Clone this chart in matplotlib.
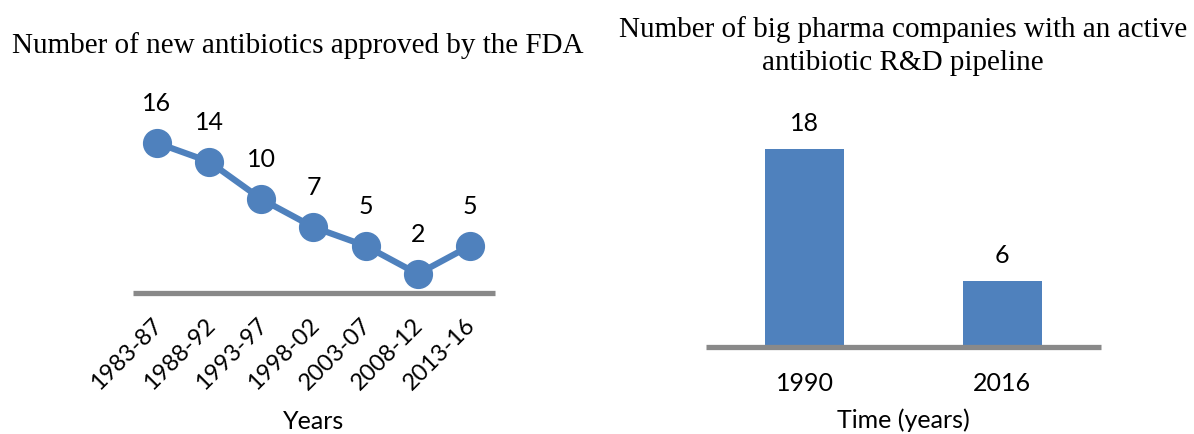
import matplotlib
matplotlib.use("Agg")
import matplotlib.pyplot as plt
from matplotlib.transforms import ScaledTranslation

# ---- data ----
periods = ["1983-87", "1988-92", "1993-97", "1998-02", "2003-07", "2008-12", "2013-16"]
approved = [16, 14, 10, 7, 5, 2, 5]
bar_years = ["1990", "2016"]
companies = [18, 6]

left_title = "Number of new antibiotics approved by the FDA"
right_title_1 = "Number of big pharma companies with an active"
right_title_2 = "antibiotic R&D pipeline"
left_xlabel = "Years"
right_xlabel = "Time (years)"

BLUE = "#4F81BD"
GRAY = "#898989"
W, H = 1194, 435
SERIF = "Liberation Serif"
SANS = "Lato"
FS = 18

fig = plt.figure(figsize=(W / 100, H / 100), dpi=100)


def fx(x):
    return x / W


def fy(y):
    return 1 - y / H


def style_axes(ax):
    for s in ("top", "left", "right"):
        ax.spines[s].set_visible(False)
    ax.spines["bottom"].set_color(GRAY)
    ax.spines["bottom"].set_linewidth(3.8)
    ax.spines["bottom"].set_capstyle("butt")
    ax.set_yticks([])
    ax.tick_params(axis="x", length=0)
    ax.patch.set_alpha(0)


# ---- left: line chart ----
lb, lt = 293.7, 80
ax1 = fig.add_axes([fx(133), fy(lb), fx(495 - 133), (lb - lt) / H])
style_axes(ax1)
xs = list(range(len(periods)))
ax1.plot(xs, approved, color=BLUE, lw=4.5, marker="o", ms=20,
         markeredgecolor=BLUE, clip_on=False, zorder=3)
ax1.set_xlim(-0.46, 6.48)
ax1.set_ylim(0, (lb - lt) / 9.36)
for x, v in zip(xs, approved):
    ax1.annotate(str(v), (x, v), xytext=(0, 29), textcoords="offset points",
                 ha="center", va="center", fontsize=FS, family=SANS)
ax1.set_xticks(xs)
ax1.set_xticklabels(periods, rotation=45, ha="right", va="top",
                    fontsize=17, family=SANS)
ax1.tick_params(axis="x", pad=15)
shift = ScaledTranslation(7 / 72, 0, fig.dpi_scale_trans)
for lbl in ax1.get_xticklabels():
    lbl.set_transform(lbl.get_transform() + shift)

# ---- right: bar chart ----
rb, rt = 348, 100
ax2 = fig.add_axes([fx(706), fy(rb), fx(1101 - 706), (rb - rt) / H])
style_axes(ax2)
bx = list(range(len(bar_years)))
ax2.bar(bx, companies, width=0.4, color=BLUE, zorder=2)
ax2.set_xlim(-0.5, 1.5)
ax2.set_ylim(0, (rb - rt) / 11.0)
for x, v in zip(bx, companies):
    ax2.annotate(str(v), (x, v), xytext=(0, 19), textcoords="offset points",
                 ha="center", va="center", fontsize=FS, family=SANS)
ax2.set_xticks(bx)
ax2.set_xticklabels(bar_years, fontsize=FS, family=SANS)
ax2.tick_params(axis="x", pad=17)

# ---- titles and axis labels ----
fig.text(fx(297.5), fy(53), left_title, ha="center", va="baseline",
         fontsize=21, family=SERIF)
fig.text(fx(903), fy(37), right_title_1, ha="center", va="baseline",
         fontsize=21, family=SERIF)
fig.text(fx(903), fy(70), right_title_2, ha="center", va="baseline",
         fontsize=21, family=SERIF)
fig.text(fx(314), fy(422), left_xlabel, ha="center", va="center",
         fontsize=FS, family=SANS)
fig.text(fx(903.5), fy(420), right_xlabel, ha="center", va="center",
         fontsize=FS, family=SANS)

fig.savefig("out.png", dpi=100)
